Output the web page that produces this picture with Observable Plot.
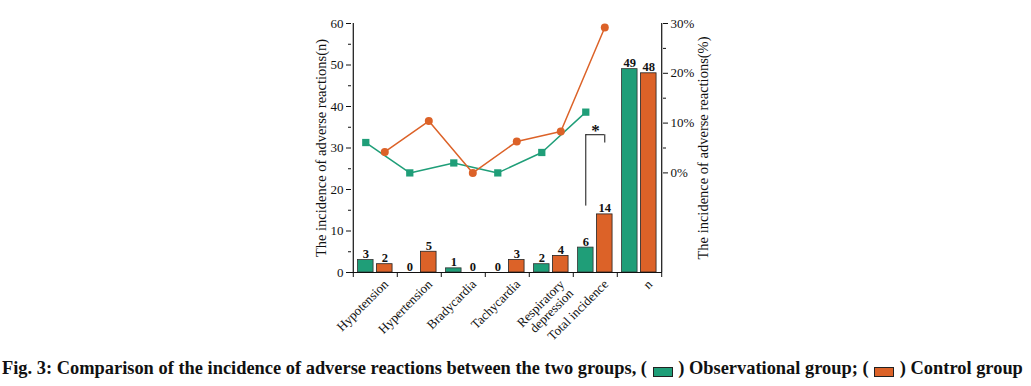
<!DOCTYPE html>
<html><head><meta charset="utf-8">
<script src="https://cdn.jsdelivr.net/npm/d3@7"></script>
<script src="https://cdn.jsdelivr.net/npm/@observablehq/plot@0.6"></script>
<style>
body{margin:0;background:#fff;width:1031px;height:386px;position:relative;overflow:hidden}
#chart{position:absolute;left:0;top:0}
#cap{position:absolute;left:2px;top:359px;font-family:"Liberation Serif",Times,"Times New Roman",serif;font-weight:bold;font-size:17px;line-height:1;white-space:nowrap;color:#111}
.sw{display:inline-block;width:18px;height:8px;border:1px solid #222;vertical-align:-3px;margin:0 1px}
</style></head><body>
<div id="chart"></div>
<div id="cap">Fig. 3: Comparison of the incidence of adverse reactions between the two groups, ( <span class="sw" style="background:#1f9e78"></span> ) Observational group; ( <span class="sw" style="background:#dc6228"></span> ) Control group</div>
<script>
// ---- data ----
const categories = ["Hypotension","Hypertension","Bradycardia","Tachycardia","Respiratory\ndepression","Total incidence","n"];
const groups = ["Observational group","Control group"];
const obsCounts = [3,0,1,0,2,6,49];
const ctrlCounts = [2,5,0,3,4,14,48];
const rateCategories = categories.slice(0,6);
const obsRate = [6.1,0,2.0,0,4.1,12.2];     // %
const ctrlRate = [4.2,10.4,0,6.3,8.3,29.2]; // %
const leftTicks = [0,10,20,30,40,50,60];
const leftMinor = [5,15,25,35,45,55];
const rightTicks = [0,10,20,30];  // %
const rightMinor = [5,15,25];     // %
const sigCategory = "Total incidence";
const sigLevels = [16, 33.2, 31.2]; // left foot, top, right foot (n units)
const leftTitle = "The incidence of adverse reactions(n)";
const rightTitle = "The incidence of adverse reactions(%)";

// ---- styling ----
const FONT = 'Liberation Serif, Times, serif';
const GREEN = "#1f9e78", ORANGE = "#dc6228";
const W = 1031, H = 345, ML = 351, MR = 369, MT = 23, MB = 73;
const step = (W - ML - MR) / categories.length;
const half = step / 2;
// percent axis aligned: 0% at n=24, 30% at n=60
const pctZero = 24, pctTop = 60, pctMax = 30;
const toN = p => pctZero + p * (pctTop - pctZero) / pctMax;
const toP = n => (n - pctZero) * pctMax / (pctTop - pctZero);

const obsBars = categories.map((c,i)=>({c, v: obsCounts[i]}));
const ctrlBars = categories.map((c,i)=>({c, v: ctrlCounts[i]}));
const obsLine = rateCategories.map((c,i)=>({c, p: obsRate[i]}));
const ctrlLine = rateCategories.map((c,i)=>({c, p: ctrlRate[i]}));

const gL = 4.5, gR = 20.5, oL = 23.5, oR = 39.5;
const gDx = (gL+gR)/2 - half, oDx = (oL+oR)/2 - half;

const chart = Plot.plot({
  width: W, height: H, marginLeft: ML, marginRight: MR, marginTop: MT, marginBottom: MB,
  style: {fontFamily: FONT, fontSize: "13px", color: "#111", background: "white", overflow: "visible"},
  x: {domain: categories, padding: 0, axis: null},
  y: {domain: [0, 60], axis: null},
  marks: [
    Plot.barY(obsBars, {x: "c", y: "v", fill: GREEN, stroke: "#333", strokeWidth: 0.8, insetLeft: gL, insetRight: step - gR}),
    Plot.barY(ctrlBars, {x: "c", y: "v", fill: ORANGE, stroke: "#222", strokeWidth: 0.8, insetLeft: oL, insetRight: step - oR}),
    Plot.text(obsBars, {x: "c", y: "v", text: d => String(d.v), dx: gDx, dy: -2, lineAnchor: "bottom", fontWeight: "bold", fontSize: 12.5}),
    Plot.text(ctrlBars, {x: "c", y: "v", text: d => String(d.v), dx: oDx, dy: -2, lineAnchor: "bottom", fontWeight: "bold", fontSize: 12.5}),
    Plot.line(obsLine, {x: "c", y: d => toN(d.p), stroke: GREEN, strokeWidth: 1.5, dx: gDx}),
    Plot.dot(obsLine, {x: "c", y: d => toN(d.p), symbol: "square", r: 4.1, fill: GREEN, dx: gDx}),
    Plot.line(ctrlLine, {x: "c", y: d => toN(d.p), stroke: ORANGE, strokeWidth: 1.5, dx: oDx}),
    Plot.dot(ctrlLine, {x: "c", y: d => toN(d.p), symbol: "circle", r: 4, fill: ORANGE, dx: oDx}),
    // significance bracket
    Plot.ruleX([sigCategory], {x: d => d, y1: sigLevels[0], y2: sigLevels[1], dx: gDx, stroke: "#111", strokeWidth: 1}),
    Plot.ruleX([sigCategory], {x: d => d, y1: sigLevels[2], y2: sigLevels[1], dx: oDx, stroke: "#111", strokeWidth: 1}),
    Plot.ruleY([sigLevels[1]], {y: d => d, x1: () => sigCategory, x2: () => sigCategory, insetLeft: half + gDx, insetRight: half - oDx, stroke: "#111", strokeWidth: 1}),
    Plot.text([sigCategory], {x: d => d, y: sigLevels[1], text: () => "*", dy: 1, lineAnchor: "bottom", fontWeight: "bold", fontSize: 17}),
    // axes frame
    Plot.ruleY([0], {stroke: "#111", strokeWidth: 1.2}),
    Plot.ruleX([categories[0]], {x: d => d, y1: 0, y2: 60, dx: -half, stroke: "#111", strokeWidth: 1.2}),
    Plot.ruleX([categories[categories.length-1]], {x: d => d, y1: 0, y2: 60, dx: half, stroke: "#111", strokeWidth: 1.2}),
    Plot.axisX({ticks: categories, tickSize: 5, text: null, label: null, dx: -half}),
    Plot.axisX({ticks: [categories[categories.length-1]], tickSize: 5, text: null, label: null, dx: half}),
    Plot.text(categories, {x: d => d, frameAnchor: "bottom", text: d => d, rotate: -45, textAnchor: "end", lineAnchor: "top", dx: 7, dy: 6, fontSize: 13}),
    Plot.axisY({anchor: "left", ticks: leftTicks, tickSize: 5, tickPadding: 3, label: null, fontSize: 13}),
    Plot.axisY({anchor: "left", ticks: leftMinor, tickSize: 3, text: null, label: null}),
    Plot.axisY({anchor: "right", ticks: rightTicks.map(toN), tickFormat: v => Math.round(toP(v)) + "%", tickSize: 5, tickPadding: 3, label: null, fontSize: 13}),
    Plot.axisY({anchor: "right", ticks: rightMinor.map(toN), tickSize: 3, text: null, label: null}),
    Plot.text([leftTitle], {frameAnchor: "left", text: d => d, rotate: -90, textAnchor: "middle", dx: -30, fontSize: 14.5}),
    Plot.text([rightTitle], {frameAnchor: "right", text: d => d, rotate: -90, textAnchor: "middle", dx: 40.5, fontSize: 14.5})
  ]
});
document.getElementById("chart").append(chart);

// fit caption width to the page
const cap = document.getElementById("cap");
const w = cap.getBoundingClientRect().width;
cap.style.fontSize = (17 * 1025 / w) + "px";
</script>
</body></html>
